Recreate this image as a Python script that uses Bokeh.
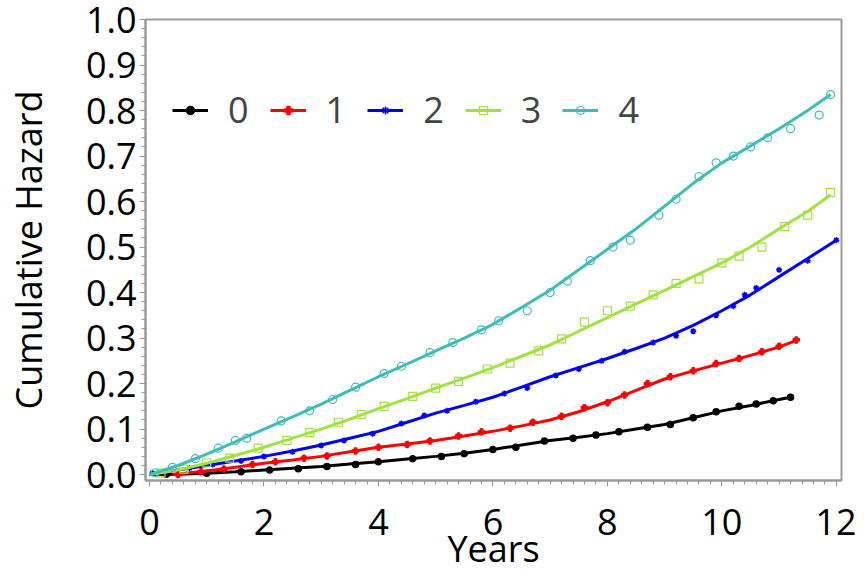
from bokeh.plotting import figure
from bokeh.models import Range1d, FixedTicker, Legend, LegendItem, CustomJSTickFormatter
from bokeh.embed import file_html
from bokeh.resources import INLINE

# ---- data ----
groups = ["0", "1", "2", "3", "4"]
colors = ["#000000", "#ff0000", "#0000ff", "#9fe33f", "#3dbcbc"]

# smooth (fitted) curves
x0 = [0, 0.5, 1, 1.5, 2, 2.5, 3, 3.5, 4, 4.5, 5, 5.5, 6, 6.5, 7, 7.5, 8, 8.5, 9, 9.5, 10, 10.5, 11, 11.2]
y0 = [0, 0.001, 0.003, 0.006, 0.01, 0.014, 0.018, 0.023, 0.028, 0.034, 0.04, 0.047, 0.055, 0.065, 0.075, 0.082, 0.09, 0.1, 0.11, 0.125, 0.14, 0.152, 0.165, 0.17]

x1 = [0.4, 1, 1.5, 2, 2.5, 3, 3.5, 4, 4.5, 5, 5.5, 6, 6.5, 7, 7.5, 8, 8.5, 9, 9.5, 10, 10.5, 11, 11.3]
y1 = [0, 0.008, 0.016, 0.025, 0.032, 0.04, 0.05, 0.06, 0.067, 0.075, 0.085, 0.095, 0.107, 0.12, 0.138, 0.16, 0.185, 0.21, 0.228, 0.245, 0.262, 0.28, 0.295]

x2 = [0, 0.5, 1, 1.5, 2, 2.5, 3, 3.5, 4, 4.5, 5, 5.5, 6, 6.5, 7, 7.5, 8, 8.5, 9, 9.5, 10, 10.5, 11, 11.5, 12]
y2 = [0, 0.01, 0.02, 0.03, 0.04, 0.052, 0.065, 0.08, 0.095, 0.115, 0.135, 0.152, 0.17, 0.192, 0.215, 0.235, 0.255, 0.277, 0.30, 0.328, 0.36, 0.395, 0.435, 0.475, 0.515]

x3 = [0, 0.5, 1, 1.5, 2, 2.5, 3, 3.5, 4, 4.5, 5, 5.5, 6, 6.5, 7, 7.5, 8, 8.5, 9, 9.5, 10, 10.5, 11, 11.5, 11.9]
y3 = [0, 0.01, 0.025, 0.042, 0.06, 0.08, 0.10, 0.122, 0.145, 0.167, 0.19, 0.212, 0.235, 0.26, 0.285, 0.315, 0.345, 0.375, 0.405, 0.435, 0.465, 0.50, 0.54, 0.578, 0.615]

x4 = [0, 0.5, 1, 1.5, 2, 2.5, 3, 3.5, 4, 4.5, 5, 5.5, 6, 6.5, 7, 7.5, 8, 8.5, 9, 9.5, 10, 10.5, 11, 11.5, 11.9]
y4 = [0, 0.02, 0.045, 0.072, 0.10, 0.127, 0.155, 0.185, 0.215, 0.243, 0.272, 0.30, 0.33, 0.367, 0.405, 0.45, 0.495, 0.54, 0.59, 0.64, 0.685, 0.722, 0.76, 0.80, 0.835]

# observed (step estimate) points
mx0 = [0.3, 1.0, 1.6, 2.1, 2.6, 3.1, 3.6, 4.0, 4.6, 5.1, 5.5, 6.0, 6.4, 6.9, 7.4, 7.8, 8.2, 8.7, 9.1, 9.5, 9.9, 10.3, 10.6, 10.9, 11.2]
my0 = [0.001, 0.003, 0.006, 0.01, 0.013, 0.018, 0.022, 0.028, 0.035, 0.04, 0.046, 0.055, 0.06, 0.074, 0.08, 0.087, 0.094, 0.104, 0.11, 0.125, 0.138, 0.15, 0.155, 0.162, 0.17]

mx1 = [0.5, 0.9, 1.3, 1.8, 2.2, 2.7, 3.1, 3.6, 4.0, 4.5, 4.9, 5.4, 5.8, 6.3, 6.7, 7.2, 7.6, 8.0, 8.3, 8.7, 9.1, 9.5, 9.9, 10.3, 10.7, 11.0, 11.3]
my1 = [0.0, 0.006, 0.012, 0.022, 0.028, 0.036, 0.041, 0.052, 0.06, 0.066, 0.074, 0.085, 0.094, 0.102, 0.115, 0.128, 0.147, 0.158, 0.175, 0.2, 0.215, 0.228, 0.244, 0.255, 0.27, 0.282, 0.296]

mx2 = [0.05, 0.3, 0.7, 1.1, 1.6, 2.0, 2.5, 3.0, 3.4, 3.9, 4.4, 4.8, 5.2, 5.7, 6.2, 6.6, 7.1, 7.5, 7.9, 8.3, 8.8, 9.2, 9.5, 9.9, 10.2, 10.4, 10.6, 11.0, 11.5, 12.0]
my2 = [0.003, 0.008, 0.014, 0.022, 0.03, 0.04, 0.05, 0.064, 0.075, 0.09, 0.112, 0.13, 0.14, 0.16, 0.178, 0.19, 0.218, 0.232, 0.25, 0.27, 0.29, 0.305, 0.315, 0.35, 0.37, 0.395, 0.41, 0.45, 0.47, 0.515]

mx3 = [0.2, 0.6, 1.0, 1.4, 1.9, 2.4, 2.8, 3.3, 3.7, 4.1, 4.6, 5.0, 5.4, 5.9, 6.3, 6.8, 7.2, 7.6, 8.0, 8.4, 8.8, 9.2, 9.6, 10.0, 10.3, 10.7, 11.1, 11.5, 11.9]
my3 = [0.003, 0.012, 0.026, 0.036, 0.058, 0.075, 0.092, 0.115, 0.132, 0.15, 0.172, 0.19, 0.205, 0.232, 0.245, 0.272, 0.298, 0.335, 0.36, 0.37, 0.395, 0.42, 0.43, 0.465, 0.48, 0.5, 0.545, 0.57, 0.62]

mx4 = [0.1, 0.4, 0.8, 1.2, 1.5, 1.7, 2.3, 2.8, 3.2, 3.6, 4.1, 4.4, 4.9, 5.3, 5.8, 6.1, 6.6, 7.0, 7.3, 7.7, 8.1, 8.4, 8.9, 9.2, 9.6, 9.9, 10.2, 10.5, 10.8, 11.2, 11.7, 11.9]
my4 = [0.004, 0.016, 0.035, 0.058, 0.075, 0.08, 0.118, 0.14, 0.165, 0.192, 0.222, 0.238, 0.268, 0.29, 0.318, 0.338, 0.36, 0.40, 0.425, 0.47, 0.50, 0.515, 0.57, 0.605, 0.655, 0.685, 0.70, 0.72, 0.74, 0.76, 0.79, 0.835]

x_ticks = [0, 2, 4, 6, 8, 10, 12]
y_ticks = [0.0, 0.1, 0.2, 0.3, 0.4, 0.5, 0.6, 0.7, 0.8, 0.9, 1.0]
x_title = "Years"
y_title = "Cumulative Hazard"

curves = [(x0, y0), (x1, y1), (x2, y2), (x3, y3), (x4, y4)]
points = [(mx0, my0), (mx1, my1), (mx2, my2), (mx3, my3), (mx4, my4)]
markers = ["circle", "plus", "asterisk", "square", "circle"]
filled = [True, True, True, False, False]

FONT = "Open Sans"
FS = "36px"

p = figure(width=856, height=575, output_backend="svg", toolbar_location=None,
           x_range=Range1d(-0.07, 12.09), y_range=Range1d(-0.013, 1.0),
           min_border_left=142, min_border_right=15, min_border_top=19, min_border_bottom=95)
p.grid.visible = False
p.outline_line_color = "#9a9a9a"
p.outline_line_width = 2
p.background_fill_color = "white"
p.border_fill_color = "white"

minor_x = [i * 0.2 for i in range(0, 61)]
minor_y = [i * 0.02 for i in range(0, 51)]
p.xaxis.ticker = FixedTicker(ticks=x_ticks, minor_ticks=minor_x)
p.yaxis.ticker = FixedTicker(ticks=y_ticks, minor_ticks=minor_y)
p.yaxis.formatter = CustomJSTickFormatter(code="return tick.toFixed(1);")

for ax in (p.xaxis, p.yaxis):
    ax.axis_line_color = "#9a9a9a"
    ax.axis_line_width = 2
    ax.major_tick_line_color = "#9a9a9a"
    ax.minor_tick_line_color = "#9a9a9a"
    ax.major_tick_in = 0
    ax.major_tick_out = 6
    ax.minor_tick_in = 0
    ax.minor_tick_out = 4
    ax.major_label_text_font = FONT
    ax.major_label_text_font_size = FS
    ax.major_label_text_color = "black"
    ax.axis_label_text_font = FONT
    ax.axis_label_text_font_size = FS
    ax.axis_label_text_font_style = "normal"
    ax.axis_label_text_color = "black"

p.xaxis.axis_label = x_title
p.yaxis.axis_label = y_title
p.xaxis.major_label_standoff = 22
p.xaxis.axis_label_standoff = -14
p.yaxis.major_label_standoff = 3
p.yaxis.axis_label_standoff = 30

items = []
for g, c, (cx, cy), (px, py), m, f in zip(groups, colors, curves, points, markers, filled):
    if f:
        sr = p.scatter(px, py, marker=m, size=6, color=c, line_width=1.5)
    else:
        sr = p.scatter(px, py, marker=m, size=8, line_color=c, fill_color=None, line_width=1.2)
    lr = p.line(cx, cy, line_color=c, line_width=3)
    items.append(LegendItem(label=g, renderers=[lr, sr]))

legend = Legend(items=items, orientation="horizontal", location=(27, 346),
                label_text_font=FONT, label_text_font_size=FS,
                glyph_width=36, glyph_height=20, label_standoff=20, spacing=21,
                padding=0, margin=0, border_line_color=None, background_fill_alpha=0)
p.add_layout(legend, "center")

open("out.html", "w").write(file_html(p, INLINE))
